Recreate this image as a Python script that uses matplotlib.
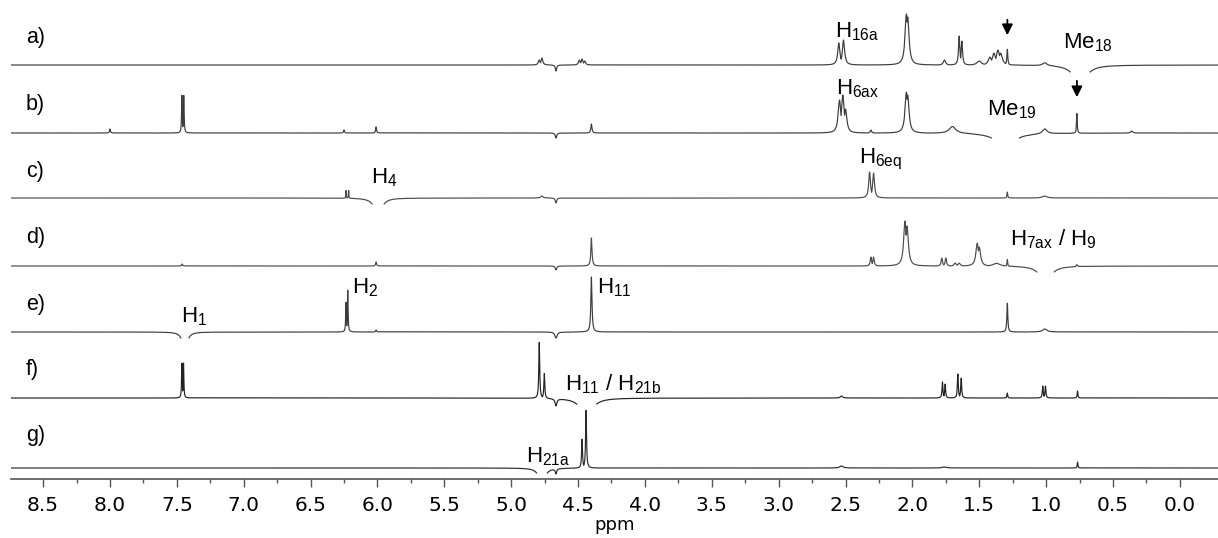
import numpy as np
import matplotlib
matplotlib.use("Agg")
import matplotlib.pyplot as plt

plt.rcParams['font.family'] = ['Liberation Sans', 'DejaVu Sans']
plt.rcParams['mathtext.fontset'] = 'custom'
plt.rcParams['mathtext.rm'] = 'Liberation Sans'
plt.rcParams['mathtext.default'] = 'regular'

# peak lists per trace: position (ppm), height (px above baseline), half width (ppm)
a_ppm = [4.79, 4.77, 4.49, 4.47, 4.45, 2.55, 2.515, 2.045, 2.035, 1.76, 1.65, 1.63, 1.50, 1.42, 1.39, 1.36, 1.34, 1.29, 1.01, 4.665]
a_h = [5, 7, 5, 6, 4, 22, 25, 51, 48, 5, 29, 24, 4, 8, 12, 15, 12, 16, 3, -6]
a_w = [0.008, 0.008, 0.008, 0.008, 0.008, 0.01, 0.01, 0.012, 0.012, 0.01, 0.006, 0.006, 0.02, 0.015, 0.015, 0.015, 0.015, 0.004, 0.02, 0.006]

b_ppm = [8.00, 7.462, 7.448, 6.25, 6.01, 4.40, 2.545, 2.52, 2.50, 2.31, 2.045, 2.035, 1.70, 1.01, 0.77, 0.36, 4.665]
b_h = [4, 38, 38, 3, 6, 9, 33, 38, 24, 3, 41, 38, 7, 5, 20, 2, -5]
b_w = [0.004, 0.003, 0.003, 0.004, 0.004, 0.005, 0.012, 0.012, 0.012, 0.006, 0.012, 0.012, 0.03, 0.02, 0.003, 0.01, 0.006]

c_ppm = [6.235, 6.215, 4.77, 2.32, 2.29, 1.29, 1.01, 4.665]
c_h = [8, 8, 2, 26, 25, 6, 2, -5]
c_w = [0.002, 0.002, 0.01, 0.008, 0.008, 0.003, 0.02, 0.006]

d_ppm = [7.46, 6.01, 4.40, 2.31, 2.29, 2.055, 2.04, 1.78, 1.75, 1.68, 1.65, 1.515, 1.50, 1.37, 1.29, 0.77, 4.665]
d_h = [2, 4, 28, 9, 9, 45, 40, 8, 8, 3, 3, 23, 19, 3, 7, 2, -4]
d_w = [0.004, 0.004, 0.005, 0.006, 0.006, 0.012, 0.012, 0.006, 0.006, 0.01, 0.01, 0.012, 0.012, 0.03, 0.003, 0.005, 0.006]

e_ppm = [6.235, 6.222, 6.01, 4.40, 1.29, 1.01, 4.665]
e_h = [30, 42, 2, 55, 29, 3, -6]
e_w = [0.003, 0.003, 0.004, 0.005, 0.004, 0.02, 0.01]

f_ppm = [7.462, 7.450, 4.79, 4.752, 2.53, 1.775, 1.755, 1.66, 1.635, 1.29, 1.025, 1.005, 0.765, 4.665]
f_h = [35, 35, 56, 25, 2, 16, 14, 24, 20, 5, 12, 12, 7, -7]
f_w = [0.003, 0.003, 0.004, 0.004, 0.01, 0.004, 0.004, 0.004, 0.004, 0.003, 0.004, 0.004, 0.003, 0.008]

g_ppm = [4.47, 4.44, 2.53, 1.76, 0.765, 4.665]
g_h = [29, 58, 2, 1, 6, -5]
g_w = [0.004, 0.004, 0.015, 0.02, 0.003, 0.006]

# selectively excited region (gap) per trace: low ppm, high ppm, depth at edge (px)
gaps = {'a': (0.67, 0.82, 7), 'b': (1.20, 1.41, 5), 'c': (5.95, 6.04, 6),
        'd': (0.94, 1.07, 6), 'e': (7.41, 7.47, 6), 'f': (4.36, 4.51, 6),
        'g': (4.73, 4.81, 5)}

traces = [('a', a_ppm, a_h, a_w), ('b', b_ppm, b_h, b_w), ('c', c_ppm, c_h, c_w),
          ('d', d_ppm, d_h, d_w), ('e', e_ppm, e_h, e_w), ('f', f_ppm, f_h, f_w),
          ('g', g_ppm, g_h, g_w)]

# baseline pixel rows in the picture -> data y = 479 - row
base_rows = [65, 133, 198, 266, 332, 398, 468]
label_rows = [43, 110, 177, 243, 310, 375, 441]
colors = ['#3c3c3c', '#3c3c3c', '#4a4a4a', '#4a4a4a', '#3c3c3c', '#222222', '#2a2a2a']

fig = plt.figure(figsize=(12.18, 5.38), dpi=100)
ax = fig.add_axes([11 / 1218, 59 / 538, 1207 / 1218, 479 / 538])

x = np.linspace(-0.4, 8.9, 12000)
for (name, pp, hh, ww), row, lrow, col in zip(traces, base_rows, label_rows, colors):
    pos = np.zeros_like(x)
    neg = np.zeros_like(x)
    for p, h, w in zip(pp, hh, ww):
        shape = h / (1 + ((x - p) / w) ** 2)
        if h > 0:
            pos = np.maximum(pos, shape)
        else:
            neg += shape
    lo, hi, depth = gaps[name]
    c = (lo + hi) / 2
    wd = (hi - lo) / 2 * 0.7
    neg -= depth * (1 + (1 / 0.7) ** 2) / (1 + ((x - c) / wd) ** 2)
    y = pos + neg
    y[(x > lo) & (x < hi)] = np.nan
    ax.plot(x, 479 - row + y, color=col, lw=0.85)
    ax.text(8.63, 479 - lrow, name + ')', fontsize=15.5, va='baseline', ha='left')

ann = [(r'$H_{16a}$', 2.58, 37), (r'$Me_{18}$', 0.876, 48), (r'$H_{6ax}$', 2.575, 94),
       (r'$Me_{19}$', 1.445, 115), (r'$H_{4}$', 6.05, 183), (r'$H_{6eq}$', 2.40, 163),
       (r'$H_{7ax}$ / $H_{9}$', 1.27, 245), (r'$H_{1}$', 7.47, 322), (r'$H_{2}$', 6.19, 293),
       (r'$H_{11}$', 4.36, 293), (r'$H_{11}$ / $H_{21b}$', 4.60, 390), (r'$H_{21a}$', 4.89, 462)]
for txt, px, py in ann:
    ax.text(px, 479 - py, txt, fontsize=16, va='baseline', ha='left')

# arrows marking Me18 / Me19
for xa, y0, y1 in [(1.29, 17, 38), (0.77, 78, 100)]:
    ax.annotate('', xy=(xa, 479 - y1), xytext=(xa, 479 - y0),
                arrowprops=dict(arrowstyle='-|>', color='black', lw=1.3, mutation_scale=16))

ax.set_xlim(8.74, -0.285)
ax.set_ylim(0, 479)
for s in ['top', 'left', 'right']:
    ax.spines[s].set_visible(False)
ax.spines['bottom'].set_color('#555555')
ax.spines['bottom'].set_linewidth(1.2)
ax.set_yticks([])
major = np.arange(0, 8.51, 0.5)
ax.set_xticks(major)
ax.set_xticks(major[:-1] + 0.25, minor=True)
ax.set_xticklabels(['%.1f' % v for v in major], fontfamily='DejaVu Sans', fontsize=14.5)
ax.tick_params(axis='x', which='major', length=6, width=1, color='#555555', pad=6)
ax.tick_params(axis='x', which='minor', length=3, width=1, color='#555555')
ax.set_xlabel('ppm', fontfamily='DejaVu Sans', fontsize=13, labelpad=1)

fig.savefig('out.png', dpi=100)
